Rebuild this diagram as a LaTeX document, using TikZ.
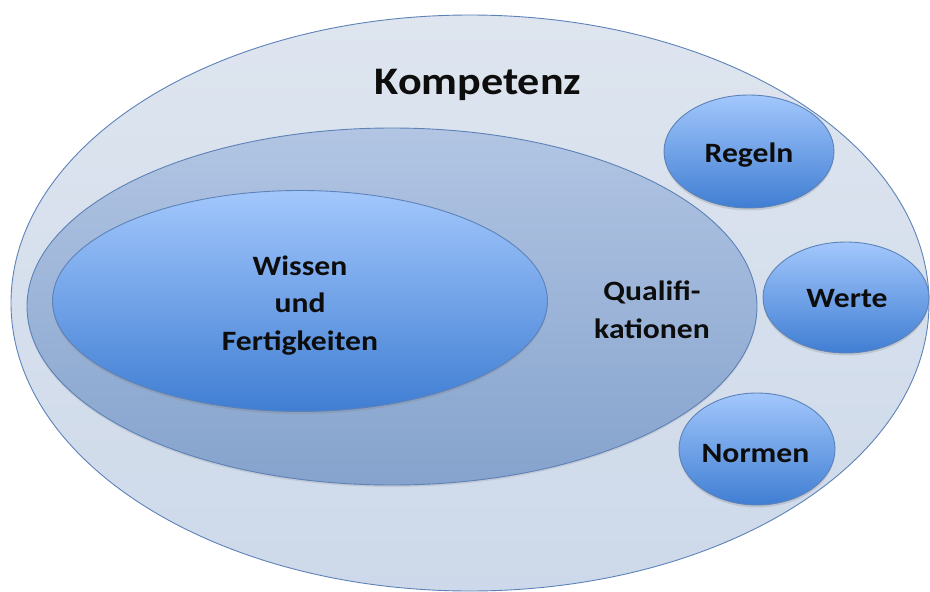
\documentclass[tikz,border=0pt]{standalone}
\usepackage{fontspec}
\setmainfont{Carlito}[FakeStretch=1.13]
\usetikzlibrary{shapes.geometric,shadows}

\definecolor{edge}{HTML}{5D82B8}
\definecolor{outerT}{HTML}{DEE5EF}
\definecolor{outerB}{HTML}{CDD9EA}
\definecolor{midT}{HTML}{B2C5E3}
\definecolor{midB}{HTML}{85A3CD}
\definecolor{blueT}{HTML}{A2C7FC}
\definecolor{blueB}{HTML}{407ED3}
\definecolor{ink}{HTML}{0D0D0D}

\begin{document}
\begin{tikzpicture}[x=1pt,y=-1pt,
  blob/.style={ellipse, draw=edge, line width=0.9pt, inner sep=0pt},
  outerfill/.style={top color=outerT, bottom color=outerB},
  midfill/.style={top color=midT, bottom color=midB},
  bluefill/.style={top color=blueT, bottom color=blueB,
    drop shadow={opacity=0.25, shadow xshift=0pt, shadow yshift=-2.5pt}},
  % multi-line labels: base anchor sits on the last line
  lbl/.style={font=\bfseries\fontsize{28}{37.5}\selectfont, text=ink,
    align=center, anchor=base, inner sep=0pt},
  title/.style={font=\bfseries\fontsize{39}{42}\selectfont, text=ink,
    anchor=base, inner sep=0pt}
]
\useasboundingbox (0,0) rectangle (930,592);

% nested ellipses
\node[blob, outerfill, minimum width=918pt, minimum height=576pt] (komp) at (470,303) {};
\node[blob, midfill, drop shadow={opacity=0.2, shadow xshift=0pt, shadow yshift=-2pt},
      minimum width=730pt, minimum height=357pt] (quali) at (392,306.5) {};
\node[blob, bluefill, minimum width=495pt, minimum height=221pt] (wissen) at (300,301) {};

% satellite ellipses
\node[blob, bluefill, minimum width=170pt, minimum height=113pt] (regeln) at (749,151.5) {};
\node[blob, bluefill, minimum width=166pt, minimum height=111pt] (werte) at (846,297.5) {};
\node[blob, bluefill, minimum width=156pt, minimum height=112pt] (normen) at (757,449) {};

% labels
\node[title] (tkomp) at (478,94) {Kompetenz};
\node[lbl] (twissen) at (300,350) {Wissen\\und\\Fertigkeiten};
\node[lbl] (tquali) at (652,338) {Qualifi-\\kationen};
\node[lbl] (tregeln) at (749,162) {Regeln};
\node[lbl] (twerte) at (847,307) {Werte};
\node[lbl] (tnormen) at (755.5,462) {Normen};
\end{tikzpicture}
\end{document}
